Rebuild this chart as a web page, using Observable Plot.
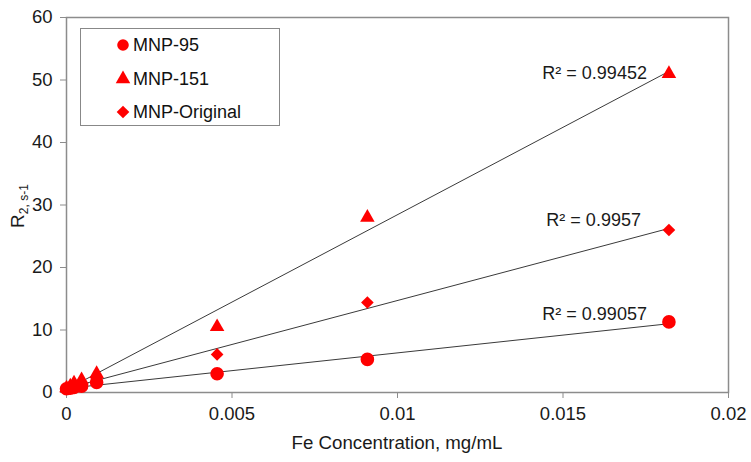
<!DOCTYPE html>
<html>
<head>
<meta charset="utf-8">
<script src="https://cdn.jsdelivr.net/npm/d3@7"></script>
<script src="https://cdn.jsdelivr.net/npm/@observablehq/plot@0.6"></script>
<style>
  body { margin: 0; background: #fff; }
  #wrap { position: relative; width: 751px; height: 462px; font-family: "Liberation Sans", Arial, sans-serif; }
  #legend { position: absolute; left: 80px; top: 28px; width: 200px; height: 98px; border: 1px solid #888; background: #fff; box-sizing: border-box; }
  .item { position: absolute; left: 34px; display: flex; align-items: center; font-size: 18px; color: #111; line-height: 1; }
  .item svg { margin-right: 2px; }
</style>
</head>
<body>
<div id="wrap"></div>
<script>
// Fe concentration (mg/mL)
const conc = [0, 0.000114, 0.000227, 0.000455, 0.00091, 0.00455, 0.00909, 0.0182];
const seriesNames = ["MNP-95", "MNP-151", "MNP-Original"];
const mnp95 = [0.6, 0.7, 0.8, 1.0, 1.6, 3.0, 5.3, 11.3];
const mnp151 = [0.7, 1.0, 1.5, 2.0, 3.0, 10.5, 28.0, 51.0];
const mnpOriginal = [0.6, 0.8, 1.0, 1.3, 2.2, 6.1, 14.4, 26.0];
const r2Labels = ["R² = 0.99057", "R² = 0.99452", "R² = 0.9957"];
const xTicks = [0, 0.005, 0.01, 0.015, 0.02];
const yTicks = [0, 10, 20, 30, 40, 50, 60];
const xTickLabels = ["0", "0.005", "0.01", "0.015", "0.02"];

const seriesValues = [mnp95, mnp151, mnpOriginal];
const symbols = ["circle", "triangle", "diamond2"];
const sizes = [6.8, 5.4, 5.7];

const rows = [];
seriesNames.forEach((s, i) => conc.forEach((c, j) => rows.push({series: s, x: c, y: seriesValues[i][j]})));

const last = conc.length - 1;
const labelRows = seriesNames.map((s, i) => ({series: s, x: conc[last], y: seriesValues[i][last], text: r2Labels[i]}));
const labelOffsets = {"MNP-95": [-22, -8], "MNP-151": [-22, -1], "MNP-Original": [-28, -10]};

const marks = [
  Plot.frame({stroke: "#8c8c8c", strokeWidth: 1.5}),
  Plot.axisX({ticks: xTicks, tickFormat: d => xTickLabels[xTicks.indexOf(d)], tickSize: 6, tickPadding: 8, stroke: "#8c8c8c", fill: "#1a1a1a", fontSize: 18.5, label: null}),
  Plot.axisY({ticks: yTicks, tickSize: 6, tickPadding: 8, stroke: "#8c8c8c", fill: "#1a1a1a", fontSize: 18.5, label: null}),
  Plot.linearRegressionY(rows, {x: "x", y: "y", z: "series", stroke: "#3a3a3a", strokeWidth: 1, ci: 0})
];
seriesNames.forEach((s, i) => {
  marks.push(Plot.dot(rows.filter(d => d.series === s), {x: "x", y: "y", symbol: () => symbols[i], r: sizes[i], fill: "#ff0000", stroke: "none"}));
  const [dx, dy] = labelOffsets[s];
  marks.push(Plot.text(labelRows.filter(d => d.series === s), {x: "x", y: "y", text: "text", dx, dy, textAnchor: "end", fontSize: 18, fill: "#1a1a1a"}));
});

const chart = Plot.plot({
  width: 751,
  height: 462,
  marginLeft: 66,
  marginRight: 23,
  marginTop: 17,
  marginBottom: 70,
  style: {fontFamily: "Liberation Sans, Arial, sans-serif", fontSize: "18px", background: "#fff"},
  x: {domain: [0, 0.02], label: null},
  y: {domain: [0, 60], label: null},
  symbol: {type: "identity"},
  marks
});

const svg = d3.select(chart);
// x axis title
svg.append("text").attr("x", 397).attr("y", 449).attr("text-anchor", "middle")
  .attr("font-size", 18.7).attr("fill", "#1a1a1a").text("Fe Concentration, mg/mL");
// y axis title with subscript
const yt = svg.append("text").attr("transform", "translate(24,206) rotate(-90)").attr("text-anchor", "middle")
  .attr("font-size", 19).attr("fill", "#1a1a1a");
yt.append("tspan").text("R");
yt.append("tspan").attr("font-size", 12).attr("dy", 4).text("2, s-1");

const wrap = document.getElementById("wrap");
wrap.appendChild(chart);

// legend
const legend = document.createElement("div");
legend.id = "legend";
const itemTops = [17, 51, 84];
seriesNames.forEach((s, i) => {
  const item = document.createElement("div");
  item.className = "item";
  item.style.top = (itemTops[i] - 10) + "px";
  const sym = { circle: d3.symbolCircle, triangle: d3.symbolTriangle, diamond2: d3.symbolDiamond2 }[symbols[i]];
  const r = Math.min(sizes[i], 5.8);
  const path = d3.symbol(sym, Math.PI * r * r)();
  item.innerHTML = `<svg width="16" height="18" viewBox="-8 -9 16 18"><path d="${path}" fill="#ff0000"/></svg><span>${s}</span>`;
  legend.appendChild(item);
});
wrap.appendChild(legend);
</script>
</body>
</html>
